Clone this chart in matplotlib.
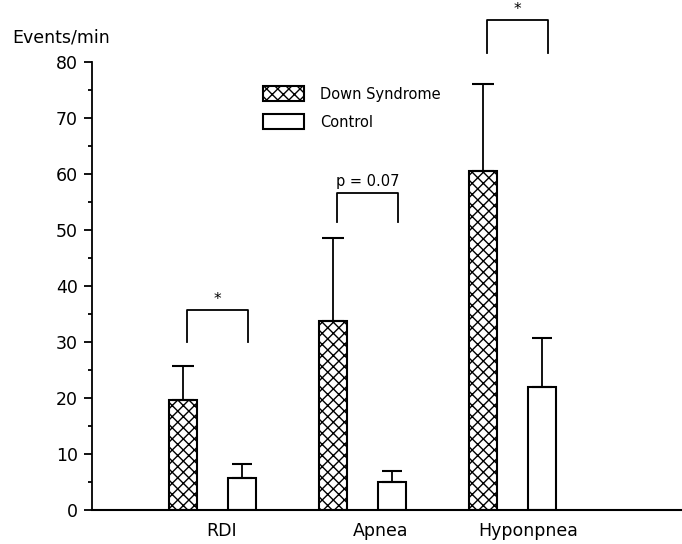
import numpy as np
import matplotlib.pyplot as plt

categories = ["RDI", "Apnea", "Hyponpnea"]
down_mean = [19.7, 33.8, 60.5]
down_err = [6.0, 14.7, 15.5]
ctrl_mean = [5.8, 5.0, 22.0]
ctrl_err = [2.4, 2.0, 8.8]
sig_labels = ["*", "p = 0.07", "*"]
# bracket heights (bottom of legs, top bar)
br_low = [30.0, 51.4, 81.6]
br_high = [35.7, 56.6, 87.5]

plt.rcParams['font.family'] = ['DejaVu Sans']
plt.rcParams['hatch.linewidth'] = 1.0

fig = plt.figure(figsize=(6.82, 5.44), dpi=100)
ax = fig.add_axes([92/682, 34/544, 590/682, 448/544])

x = np.arange(len(categories))
off = 0.197
w = 0.187

ax.bar(x - off, down_mean, w, color='white', edgecolor='black', hatch='xxx',
       linewidth=1.5, label='Down Syndrome')
ax.bar(x + off, ctrl_mean, w, color='white', edgecolor='black',
       linewidth=1.5, label='Control')
ax.errorbar(x - off, down_mean, yerr=[np.zeros(3), down_err], fmt='none',
            ecolor='black', elinewidth=1.3, capsize=8, capthick=1.5)
ax.errorbar(x + off, ctrl_mean, yerr=[np.zeros(3), ctrl_err], fmt='none',
            ecolor='black', elinewidth=1.3, capsize=7, capthick=1.5)

# significance brackets
for i in range(3):
    x1 = x[i] - off + 0.027
    x2 = x[i] + off + 0.04
    ax.plot([x1, x1, x2, x2], [br_low[i], br_high[i], br_high[i], br_low[i]],
            color='black', lw=1.3, clip_on=False)
    if sig_labels[i] == "*":
        ax.text((x1 + x2) / 2, br_high[i] + 0.5, "*", ha='center', va='bottom',
                fontsize=11, clip_on=False)
    else:
        ax.text((x1 + x2) / 2, br_high[i] + 0.8, sig_labels[i], ha='center',
                va='bottom', fontsize=10.5, clip_on=False)

ax.set_xlim(-0.803, 3.13)
ax.set_ylim(0, 80)
ax.set_yticks(np.arange(0, 81, 10))
ax.set_yticks(np.arange(5, 80, 10), minor=True)
ax.tick_params(axis='y', which='major', length=6, width=1.3, labelsize=12.5, pad=4)
ax.tick_params(axis='y', which='minor', length=3, width=1.3)
ax.set_xticks(x + np.array([0.063, 0.123, 0.107]))
ax.set_xticklabels(categories, fontsize=12.5)
ax.tick_params(axis='x', length=0, pad=9)

ax.spines['top'].set_visible(False)
ax.spines['right'].set_visible(False)
ax.spines['left'].set_linewidth(1.3)
ax.spines['bottom'].set_linewidth(1.5)

fig.text(12/682, 1 - 38/544, "Events/min", fontsize=12.5, ha='left', va='center')

ax.legend(loc='upper left', bbox_to_anchor=((263 - 92) / 590, (510 - 86) / 448),
          frameon=False, fontsize=10.5, borderpad=0, borderaxespad=0,
          handlelength=2.8, handleheight=1.25, handletextpad=1.1, labelspacing=0.85)

fig.savefig("out.png", dpi=100)
